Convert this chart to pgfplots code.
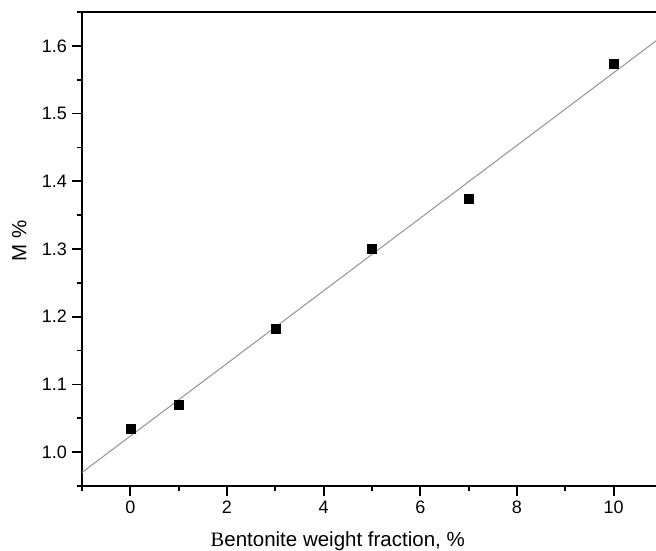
\documentclass[border=0pt]{standalone}
\usepackage{fontspec}
\setmainfont{Liberation Sans}
\newfontfamily\timesfont{Liberation Serif}
\usepackage{pgfplots}
\pgfplotsset{compat=1.18}

\begin{document}
\begin{tikzpicture}
\useasboundingbox (0,0) rectangle (656pt,551pt);
\clip (0,0) rectangle (656pt,551pt);
\begin{axis}[
  at={(82pt,65pt)}, anchor=south west,
  width=580pt, height=474pt, scale only axis,
  xmin=-1, xmax=11, ymin=0.95, ymax=1.65,
  xtick={0,2,4,6,8,10}, minor xtick={-1,1,3,5,7,9,11},
  ytick={1.0,1.1,1.2,1.3,1.4,1.5,1.6},
  minor ytick={0.95,1.05,1.15,1.25,1.35,1.45,1.55,1.65},
  xtick pos=bottom, ytick pos=left, tick align=outside,
  major tick length=10pt, minor tick length=5.5pt,
  every tick/.style={black, line width=1.8pt},
  axis line style={line width=2.2pt},
  /pgf/number format/assume math mode=true,
  yticklabel style={/pgf/number format/fixed, /pgf/number format/fixed zerofill,
    /pgf/number format/precision=1, xshift=-5pt},
  ticklabel style={font=\fontsize{18}{20}\selectfont, inner sep=0pt},
  xticklabel style={yshift=-5pt},
  xlabel={{\timesfont B}entonite weight fraction, \%},
  ylabel={M \%},
  label style={font=\fontsize{20.5}{24}\selectfont},
  xlabel style={at={(axis description cs:0.441,-0.127)}, anchor=base},
  ylabel style={at={(axis description cs:-0.108,0.517)}, anchor=center},
]
\addplot[gray!85, line width=1pt] coordinates {(-1,0.970) (11,1.614)};
\addplot[only marks, mark=square*, mark size=4.5pt, black] coordinates {
  (0,1.034) (1,1.070) (3,1.182) (5,1.300) (7,1.375) (10,1.574)
};
\end{axis}
\end{tikzpicture}
\end{document}
